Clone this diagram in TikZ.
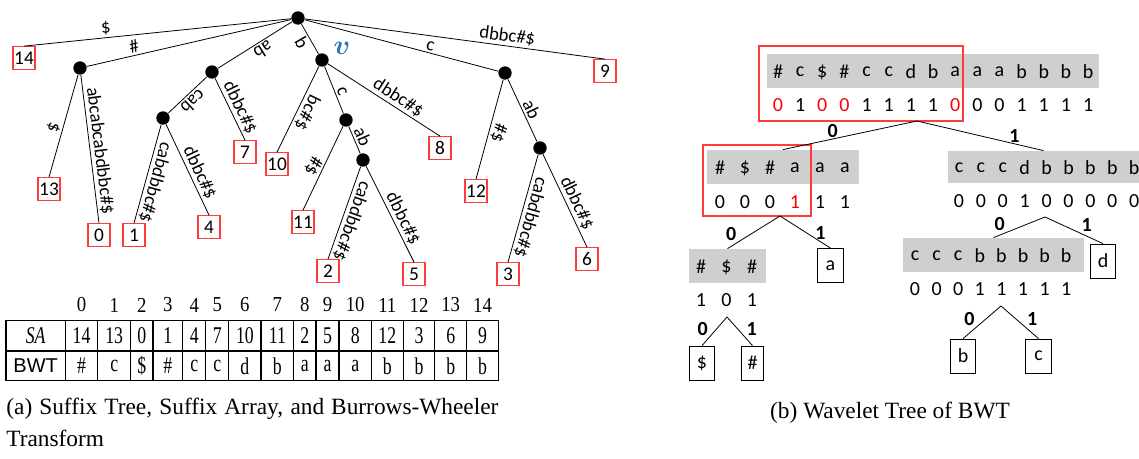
\documentclass[tikz,border=0pt]{standalone}
\usepackage{fontspec}
\usepackage{amsmath,bm}
\setmainfont{Liberation Serif}
\setsansfont{Liberation Sans}
\newfontfamily\calibri{Carlito}
\definecolor{leafred}{RGB}{255,60,60}
\definecolor{bitred}{RGB}{255,0,0}
\definecolor{wtgray}{RGB}{208,206,206}
\definecolor{vblue}{RGB}{46,117,182}

\begin{document}
\begin{tikzpicture}[x=0.75pt, y=-0.75pt, line width=0.6pt]
	\tikzstyle{stnode}=[circle, fill, inner sep=0pt, minimum size=10pt]
	\tikzstyle{stleaf}=[draw=leafred, line width=0.8pt, minimum width=16.5pt, minimum height=17pt, inner sep=0pt, font=\calibri\fontsize{14.5}{16}\selectfont]
	\tikzstyle{lbl}=[sloped, inner sep=1.5pt, font=\calibri\fontsize{14}{16}\selectfont]
	\tikzstyle{ulbl}=[lbl, allow upside down]
	\tikzstyle{cell}=[inner sep=0pt, xscale=0.74, font=\fontsize{18}{20}\selectfont]
	\tikzstyle{idx}=[inner sep=0pt, xscale=0.88, font=\fontsize{16}{18}\selectfont]
	\tikzstyle{seq}=[fill=wtgray, inner sep=0pt, minimum height=25.5pt]
	\tikzstyle{sym}=[inner sep=0pt, font=\calibri\fontsize{15}{17}\selectfont]
	\tikzstyle{bitlbl}=[inner sep=1pt, font=\calibri\bfseries\fontsize{15}{17}\selectfont]
	\tikzstyle{wleaf}=[draw, minimum width=19pt, minimum height=25.5pt, inner sep=0pt, font=\calibri\fontsize{15}{17}\selectfont]
	\tikzstyle{caption}=[inner sep=0pt, font=\fontsize{17.5}{24}\selectfont]

	\useasboundingbox (0,0) rectangle (1139,458);

	\node[stnode] (root) at (298,18) {};
	\node[stnode] (nh) at (80,68) {};
	\node[stnode] (na) at (212,72) {};
	\node[stnode] (nb) at (322,60) {};
	\node[stnode] (nc) at (505,73) {};
	\node[stnode] (nacab) at (163,118) {};
	\node[stnode] (nbc) at (346,120) {};
	\node[stnode] (nbcab) at (363,160) {};
	\node[stnode] (ncab) at (540,148) {};
	\node[text=vblue, inner sep=0pt, font=\fontsize{20}{20}\selectfont] (v) at (342,48) {$\bm{v}$};

	\node[stleaf] (s14) at (24,58) {14};
	\node[stleaf] (s13) at (49,189) {13};
	\node[stleaf] (s0) at (99,235) {0};
	\node[stleaf] (s1) at (134,235) {1};
	\node[stleaf] (s4) at (209,227) {4};
	\node[stleaf] (s7) at (245,152) {7};
	\node[stleaf] (s10) at (277,164) {10};
	\node[stleaf] (s11) at (303,222) {11};
	\node[stleaf] (s8) at (440,148) {8};
	\node[stleaf] (s2) at (328,271) {2};
	\node[stleaf] (s5) at (414,274) {5};
	\node[stleaf] (s12) at (476,191) {12};
	\node[stleaf] (s3) at (508,274) {3};
	\node[stleaf] (s6) at (587,259) {6};
	\node[stleaf] (s9) at (605,71) {9};

	\draw (root) -- node[lbl, pos=0.69, above] {\$} (s14.north);
	\draw (root) -- node[lbl, pos=0.76, above] {\#} (nh);
	\draw (root) -- node[ulbl, pos=0.45, above] {ab} (na);
	\draw (root) -- node[ulbl, pos=0.48, below] {b} (nb);
	\draw (root) -- node[lbl, pos=0.64, above] {c} (nc);
	\draw (root) -- node[lbl, pos=0.67, above] {dbbc\#\$} (s9.north);
	\draw (nh) -- node[ulbl, pos=0.54, below] {\$} (s13.north);
	\draw (nh) -- node[ulbl, pos=0.52, above] {abcabcabdbbc\#\$} (s0.north);
	\draw (na) -- node[ulbl, pos=0.51, above] {cab} (nacab);
	\draw (na) -- node[ulbl, pos=0.54, above] {dbbc\#\$} (s7.north);
	\draw (nacab) -- node[ulbl, pos=0.56, above] {cabdbbc\#\$} (s1.north);
	\draw (nacab) -- node[ulbl, pos=0.58, above] {dbbc\#\$} (s4.north);
	\draw (nb) -- node[ulbl, pos=0.49, above] {bc\#\$} (s10.north);
	\draw (nb) -- node[ulbl, pos=0.58, above] {c} (nbc);
	\draw (nb) -- node[ulbl, pos=0.58, above] {dbbc\#\$} (s8.north);
	\draw (nbc) -- node[ulbl, pos=0.52, below] {\#\$} (s11.north);
	\draw (nbc) -- node[ulbl, pos=0.51, above] {ab} (nbcab);
	\draw (nbcab) -- node[ulbl, pos=0.55, above] {cabdbbc\#\$} (s2.north);
	\draw (nbcab) -- node[ulbl, pos=0.59, above] {dbbc\#\$} (s5.north);
	\draw (nc) -- node[ulbl, pos=0.51, above] {\#\$} (s12.north);
	\draw (nc) -- node[ulbl, pos=0.54, above] {ab} (ncab);
	\draw (ncab) -- node[ulbl, pos=0.56, above] {cabdbbc\#\$} (s3.north);
	\draw (ncab) -- node[ulbl, pos=0.57, above] {dbbc\#\$} (s6.north);

	\draw[line width=0.8pt] (6,320.7) rectangle (498.3,380.7);
	\draw[line width=0.8pt] (6,351) -- (498.3,351);
	\foreach \x in {65.3,97.7,130.7,153,182.7,205.7,228.7,261,293.7,316,339,371.3,403.3,434.7,466.7}
		\draw[line width=0.8pt] (\x,320.7) -- (\x,380.7);
	\node[cell, font=\itshape\fontsize{18}{20}\selectfont] (sahead) at (35.7,336) {SA};
	\node[inner sep=0pt, font=\sffamily\fontsize{15}{18}\selectfont] (bwthead) at (35.7,366) {BWT};
	\foreach \x/\i/\s/\b in {81.5/0/14/\#, 114.2/1/13/c, 141.9/2/0/\$, 167.9/3/1/\#, 194.2/4/4/c, 217.2/5/7/c, 244.9/6/10/d, 277.4/7/11/b, 304.9/8/2/a, 327.5/9/5/a, 355.2/10/8/a, 387.3/11/12/b, 419/12/3/b, 450.7/13/6/b, 482.5/14/9/b}
	{
		\node[idx] (idx\i) at (\x,305) {\i};
		\node[cell] (sa\i) at (\x,336) {\s};
		\node[cell] (bwt\i) at (\x,366) {\b};
	}
	\node[caption, anchor=north west, text width=369pt, align=justify] (capa) at (6,398) {\emergencystretch=3em (a) Suffix Tree, Suffix Array, and Burrows-Wheeler Transform};

	\node[seq, minimum width=249pt] (wt) at (933,71) {};
	\node[seq, minimum width=114pt] (wl) at (783,167) {};
	\node[seq, minimum width=57.75pt] (wll) at (727.5,266) {};
	\node[seq, minimum width=143.25pt, minimum height=24pt] (wr) at (1043.5,167) {};
	\node[seq, minimum width=135.75pt] (wrl) at (993.5,255) {};

	\foreach \c [count=\i from 0] in {\#,c,\$,\#,c,c,d,b,a,a,a,b,b,b,b}
		\node[sym] (tc\i) at (778+\i*22.15,72) {\c};
	\foreach \b/\col [count=\i from 0] in {0/bitred,1/black,0/bitred,0/bitred,1/black,1/black,1/black,1/black,0/bitred,0/black,0/black,1/black,1/black,1/black,1/black}
		\node[sym, text=\col] (tb\i) at (778+\i*22.15,105) {\b};
	\foreach \c [count=\i from 0] in {\#,\$,\#,a,a,a}
		\node[sym] (lc\i) at (720+\i*25,168) {\c};
	\foreach \b/\col [count=\i from 0] in {0/black,0/black,0/black,1/bitred,1/black,1/black}
		\node[sym, text=\col] (lb\i) at (720+\i*25,202) {\b};
	\foreach \c [count=\i from 0] in {\#,\$,\#}
		\node[sym] (llc\i) at (701+\i*25.5,267) {\c};
	\foreach \b [count=\i from 0] in {1,0,1}
		\node[sym] (llb\i) at (701+\i*25.5,300) {\b};
	\foreach \c [count=\i from 0] in {c,c,c,d,b,b,b,b,b}
		\node[sym] (rc\i) at (959+\i*21.9,168) {\c};
	\foreach \b [count=\i from 0] in {0,0,0,1,0,0,0,0,0}
		\node[sym] (rb\i) at (959+\i*21.9,201) {\b};
	\foreach \c [count=\i from 0] in {c,c,c,b,b,b,b,b}
		\node[sym] (rlc\i) at (915+\i*21.6,256) {\c};
	\foreach \b [count=\i from 0] in {0,0,0,1,1,1,1,1}
		\node[sym] (rlb\i) at (915+\i*21.6,289) {\b};

	\draw[leafred, line width=0.8pt] (759,46) rectangle (963,121);
	\draw[leafred, line width=0.8pt] (703,145) rectangle (811,216);

	\node[wleaf] (wa) at (830.5,265.5) {a};
	\node[wleaf] (wdollar) at (702,363) {\$};
	\node[wleaf, minimum width=16pt] (whash) at (752.5,363) {\#};
	\node[wleaf] (wb) at (963,356) {b};
	\node[wleaf] (wc) at (1038.5,356) {c};
	\node[wleaf] (wd) at (1103,261) {d};

	\coordinate (tsplit) at (917,121);
	\coordinate (lsplit) at (780,216);
	\coordinate (llsplit) at (727,317);
	\coordinate (rsplit) at (1045,217);
	\coordinate (rlsplit) at (1001,306);
	\draw (tsplit) -- node[bitlbl, pos=0.63, above] {0} (wl.north);
	\draw (tsplit) -- node[bitlbl, pos=0.77, above] {1} (wr.north);
	\draw (lsplit) -- node[bitlbl, pos=0.8, above left] {0} (wll.north);
	\draw (lsplit) -- node[bitlbl, pos=0.8, above] {1} (wa.north);
	\draw (llsplit) -- node[bitlbl, pos=0.7, above left] {0} (wdollar.north);
	\draw (llsplit) -- node[bitlbl, pos=0.7, above right] {1} (whash.north);
	\draw (rsplit) -- node[bitlbl, pos=0.75, above left] {0} (wrl.north);
	\draw (rsplit) -- node[bitlbl, pos=0.6, above right] {1} (wd.north);
	\draw (rlsplit) -- node[bitlbl, pos=0.65, above left] {0} (wb.north);
	\draw (rlsplit) -- node[bitlbl, pos=0.65, above right] {1} (wc.north);

	\node[caption] (capb) at (890,413) {(b) Wavelet Tree of BWT};
\end{tikzpicture}
\end{document}
